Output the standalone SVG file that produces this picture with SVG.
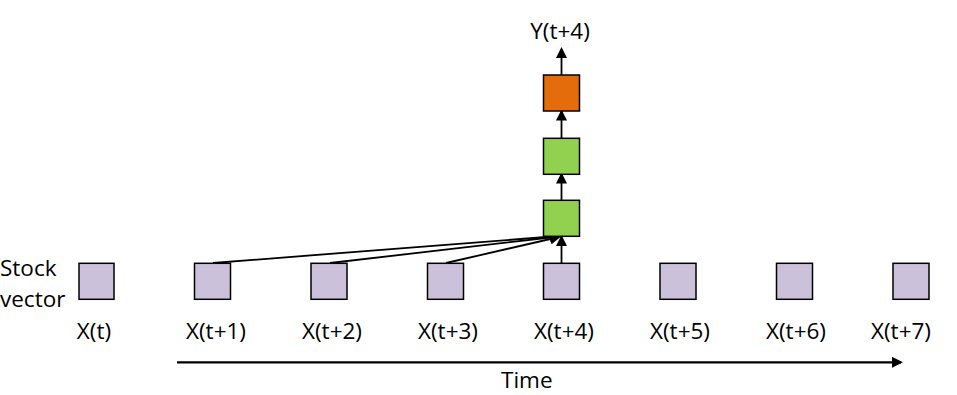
<svg xmlns="http://www.w3.org/2000/svg" width="957" height="395" viewBox="0 0 957 395">
<style>
.t{font-family:"Open Sans","Liberation Sans",sans-serif;font-size:22.5px;fill:#000}
.c{text-anchor:middle}
.x{fill:#CCC1DA;stroke:#000;stroke-width:1.5}
.g{fill:#92D050;stroke:#000;stroke-width:1.5}
.o{fill:#E46C0A;stroke:#000;stroke-width:1.5}
.e{stroke:#000;stroke-width:1.8;fill:none;marker-end:url(#ah)}
</style>
<defs>
<marker id="ah" markerWidth="11" markerHeight="11" refX="9" refY="5.5" orient="auto" markerUnits="userSpaceOnUse" viewBox="0 0 11 11">
<path d="M0,0 L11,5.5 L0,11 z" fill="#000"/>
</marker>
</defs>
<rect width="957" height="395" fill="#fff"/>
<g id="connectors">
<line class="e" x1="213" y1="263" x2="559" y2="236"/>
<line class="e" x1="330" y1="263" x2="559" y2="236.5"/>
<line class="e" x1="446" y1="263" x2="559" y2="237"/>
<line class="e" x1="561.5" y1="263" x2="561.5" y2="237"/>
<line class="e" x1="561.5" y1="200.5" x2="561.5" y2="174.5"/>
<line class="e" x1="561.5" y1="138.5" x2="561.5" y2="111.5"/>
<line class="e" x1="561.5" y1="75" x2="561.5" y2="49"/>
<line class="e" x1="177" y1="362.3" x2="901" y2="362.3" style="stroke-width:2.2"/>
</g>
<g id="y_label"><text class="t c" x="560" y="39">Y(t+4)</text></g>
<g id="out"><rect class="o" x="543.5" y="75" width="36" height="36"/></g>
<g id="h2"><rect class="g" x="543.5" y="138.3" width="36" height="36"/></g>
<g id="h1"><rect class="g" x="543.5" y="200.3" width="36" height="36"/></g>
<g id="stock_label"><text class="t" x="0" y="276">Stock</text><text class="t" x="0" y="307">vector</text></g>
<g id="x0"><rect class="x" x="79" y="263.3" width="35" height="36"/><text class="t c" x="94" y="339">X(t)</text></g>
<g id="x1"><rect class="x" x="194.5" y="263.3" width="36" height="36"/><text class="t c" x="216" y="339">X(t+1)</text></g>
<g id="x2"><rect class="x" x="311" y="263.3" width="36" height="36"/><text class="t c" x="332" y="339">X(t+2)</text></g>
<g id="x3"><rect class="x" x="427.5" y="263.3" width="36" height="36"/><text class="t c" x="448" y="339">X(t+3)</text></g>
<g id="x4"><rect class="x" x="543.5" y="263.3" width="36" height="36"/><text class="t c" x="564" y="339">X(t+4)</text></g>
<g id="x5"><rect class="x" x="660" y="263.3" width="36" height="36"/><text class="t c" x="680" y="339">X(t+5)</text></g>
<g id="x6"><rect class="x" x="776.5" y="263.3" width="36" height="36"/><text class="t c" x="796" y="339">X(t+6)</text></g>
<g id="x7"><rect class="x" x="893" y="263.3" width="36" height="36"/><text class="t c" x="901" y="339">X(t+7)</text></g>
<g id="time_label"><text class="t" x="501" y="388">Time</text></g>
</svg>
